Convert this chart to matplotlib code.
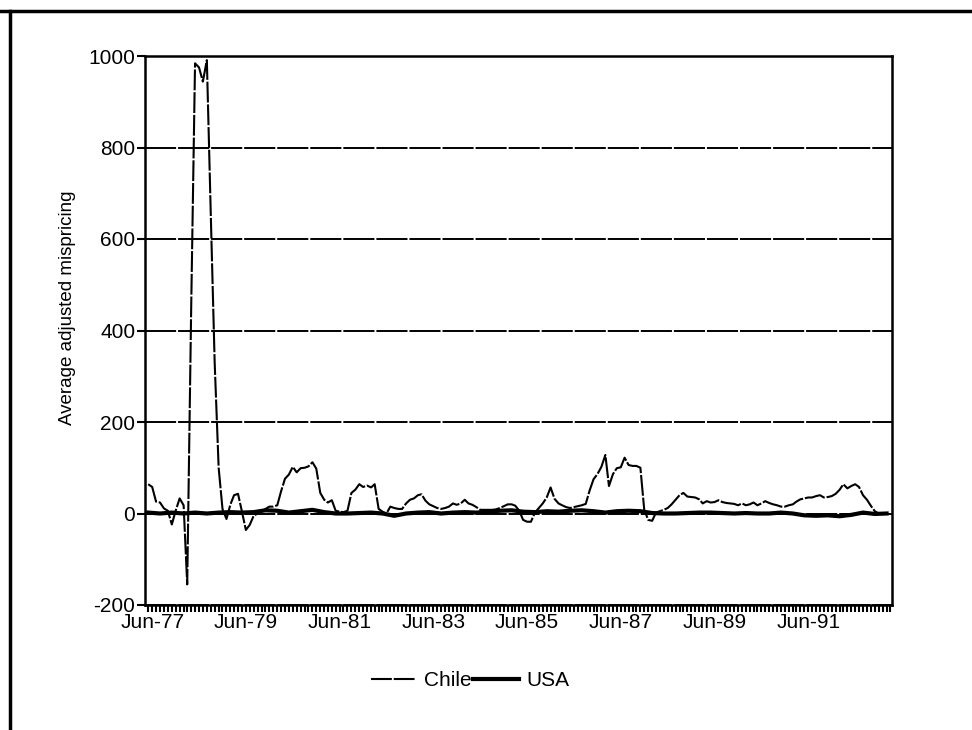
import matplotlib
matplotlib.use("Agg")
import matplotlib.pyplot as plt
import matplotlib.dates as mdates
from matplotlib.lines import Line2D
import pandas as pd

plt.rcParams['font.family'] = ['Liberation Sans', 'DejaVu Sans']

# ---- data (monthly Chile series from May-1977, USA sampled every 3 months) ----
chile_start = "1977-05-01"
chile_values = [
    64, 58, 26, 24, 11, 6, -24, 6, 33, 18, -155, 450,
    984, 975, 944, 991, 650, 330, 100, 10, -12, 20, 40, 43,
    5, -36, -25, -5, 0, 5, 10, 15, 15, 18, 48, 76,
    85, 102, 90, 99, 100, 103, 112, 98, 45, 30, 24, 29,
    6, 4, 3, 6, 45, 52, 64, 58, 61, 57, 64, 10,
    4, 0, 15, 12, 10, 10, 22, 30, 33, 40, 42, 28,
    20, 16, 12, 10, 12, 15, 22, 19, 22, 30, 22, 19,
    14, 8, 8, 8, 8, 9, 12, 16, 20, 20, 17, 6,
    -14, -18, -18, 2, 12, 22, 35, 57, 32, 22, 18, 14,
    12, 14, 16, 18, 21, 50, 75, 86, 102, 128, 60, 86,
    99, 101, 122, 106, 104, 104, 100, 8, -14, -16, 2, 5,
    8, 12, 20, 30, 40, 45, 37, 36, 35, 31, 22, 27,
    24, 25, 29, 25, 23, 22, 21, 18, 22, 18, 20, 24,
    18, 22, 27, 23, 20, 18, 15, 15, 18, 20, 26, 31,
    33, 35, 35, 38, 40, 35, 36, 38, 43, 52, 64, 55,
    60, 64, 58, 40, 30, 17, 5, 0,
]
usa_start = "1977-05-01"
usa_values = [
    2, 0, 2, 0, 2, 0, 2, 3, 2, 3,
    7, 6, 2, 5, 8, 3, 0, 0, 1, 2,
    0, -5, 0, 2, 3, 0, 2, 3, 2, 4,
    6, 7, 4, 3, 5, 4, 6, 7, 5, 2,
    5, 6, 5, 1, 0, 0, 1, 2, 2, 1,
    0, 1, 0, 0, 2, 0, -4, -5, -4, -6,
    -3, 2, -1, 0,
]
series_names = ["Chile", "USA"]
y_ticks = [-200, 0, 200, 400, 600, 800, 1000]
x_tick_dates = ["1977-06-01", "1979-06-01", "1981-06-01", "1983-06-01",
                "1985-06-01", "1987-06-01", "1989-06-01", "1991-06-01"]
x_tick_labels = ["Jun-77", "Jun-79", "Jun-81", "Jun-83",
                 "Jun-85", "Jun-87", "Jun-89", "Jun-91"]
y_label = "Average adjusted mispricing"
x_range = ("1977-04-06", "1993-03-15")

chile_dates = pd.date_range(chile_start, periods=len(chile_values), freq="MS")
usa_dates = pd.date_range(usa_start, periods=len(usa_values), freq="3MS")

fig = plt.figure(figsize=(9.72, 7.30), dpi=100)
ax = fig.add_axes([145/972, 1-605/730, (892-145)/972, (605-56)/730])

ax.plot(chile_dates, chile_values, color="black", lw=1.5,
        linestyle=(0, (10, 0.9)), label=series_names[0], zorder=3)
ax.plot(usa_dates, usa_values, color="black", lw=3.0,
        solid_joinstyle="round", label=series_names[1], zorder=4)

ax.set_ylim(-200, 1000)
ax.set_xlim(pd.Timestamp(x_range[0]), pd.Timestamp(x_range[1]))
ax.set_yticks(y_ticks)
ax.set_yticklabels([str(t) for t in y_ticks], fontsize=15)
ax.yaxis.grid(True, color="black", lw=1.4, linestyle=(0, (16, 1.0)))
ax.set_axisbelow(True)

ax.set_xticks([pd.Timestamp(d) for d in x_tick_dates])
ax.set_xticklabels(x_tick_labels, fontsize=15)
ax.xaxis.set_minor_locator(mdates.MonthLocator())
ax.tick_params(axis="x", which="major", length=5, width=1.5,
               direction="out", pad=1)
ax.tick_params(axis="x", which="minor", length=5, width=1.5, direction="out")
ax.tick_params(axis="y", length=6, width=1.5, direction="out", pad=1)

for s in ax.spines.values():
    s.set_linewidth(1.8)
    s.set_color("black")

ax.set_ylabel(y_label, fontsize=13.5)
ax.yaxis.set_label_coords(-0.093, 0.541)

fig.legend(loc="center", bbox_to_anchor=(470/972, 1-681/730), ncol=2,
           frameon=False, fontsize=15, handlelength=2.2, handletextpad=0.35,
           columnspacing=0.1)

# outer frame lines of the scanned figure
fig.add_artist(Line2D([0, 1], [1-11/730, 1-11/730], transform=fig.transFigure,
                      color="black", lw=2.5))
fig.add_artist(Line2D([10/972, 10/972], [0, 1-11/730], transform=fig.transFigure,
                      color="black", lw=2.5))

fig.savefig("out.png", dpi=100)
